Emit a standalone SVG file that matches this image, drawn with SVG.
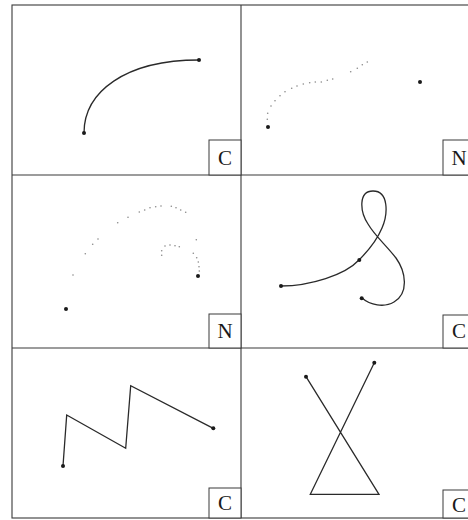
<svg xmlns="http://www.w3.org/2000/svg" width="468" height="520" viewBox="0 0 468 520">
<style>
.grid{fill:none;stroke:#3a3a3a;stroke-width:1.1}
.curve{fill:none;stroke:#2a2a2a;stroke-width:1.3;stroke-linejoin:miter}
.dot{fill:#1a1a1a}
.pt{fill:#888}
.lbl{fill:#fff;stroke:#3a3a3a;stroke-width:1}
.tx{font-family:"Liberation Serif","DejaVu Serif",serif;font-size:21px;fill:#1a1a1a;text-anchor:middle}
</style>
<rect width="468" height="520" fill="#fff"/>
<g id="grid">
<rect class="grid" x="12" y="5" width="463" height="513"/>
<line class="grid" x1="241" y1="5" x2="241" y2="518"/>
<line class="grid" x1="12" y1="175" x2="475" y2="175"/>
<line class="grid" x1="12" y1="348" x2="475" y2="348"/>
</g>
<g id="cell1">
<path class="curve" d="M84,133 C84,92 125,60 199,60"/>
<circle class="dot" cx="84" cy="133" r="2"/>
<circle class="dot" cx="199" cy="60" r="2"/>
<rect class="lbl" x="209" y="140" width="32" height="35"/>
<text class="tx" x="225" y="165">C</text>
</g>
<g id="cell2">
<g class="pt">
<circle cx="267.3" cy="119.3" r="0.8"/><circle cx="267.7" cy="113.3" r="0.8"/><circle cx="271" cy="106" r="0.8"/><circle cx="275" cy="100.7" r="0.8"/><circle cx="280" cy="95.7" r="0.8"/><circle cx="285" cy="91.7" r="0.8"/><circle cx="291.7" cy="88.3" r="0.8"/><circle cx="297" cy="86" r="0.8"/><circle cx="303.3" cy="84" r="0.8"/><circle cx="309.7" cy="82.7" r="0.8"/><circle cx="315.3" cy="82" r="0.8"/><circle cx="321.3" cy="82" r="0.8"/><circle cx="327.3" cy="80.3" r="0.8"/><circle cx="332.7" cy="79" r="0.8"/><circle cx="350.7" cy="71.7" r="0.8"/><circle cx="357.3" cy="68.3" r="0.8"/><circle cx="362.3" cy="64.7" r="0.8"/><circle cx="367.3" cy="62" r="0.8"/>
</g>
<circle class="dot" cx="268" cy="127" r="2"/>
<circle class="dot" cx="420" cy="82" r="2"/>
<rect class="lbl" x="443" y="140" width="32" height="35"/>
<text class="tx" x="459" y="165">N</text>
</g>
<g id="cell3">
<g class="pt">
<circle cx="73" cy="275" r="0.8"/><circle cx="85.3" cy="253.7" r="0.8"/><circle cx="92.7" cy="244.3" r="0.8"/><circle cx="98" cy="239" r="0.8"/><circle cx="117.7" cy="222.7" r="0.8"/><circle cx="128" cy="217.3" r="0.8"/><circle cx="139.3" cy="212" r="0.8"/><circle cx="144.7" cy="210" r="0.8"/><circle cx="150" cy="207.7" r="0.8"/><circle cx="155.7" cy="206.7" r="0.8"/><circle cx="161" cy="206" r="0.8"/><circle cx="171.3" cy="206.3" r="0.8"/><circle cx="176" cy="207.7" r="0.8"/><circle cx="180.7" cy="210" r="0.8"/><circle cx="185.7" cy="212.3" r="0.8"/><circle cx="196.3" cy="239.7" r="0.8"/><circle cx="193.3" cy="253.3" r="0.8"/><circle cx="196.7" cy="257.7" r="0.8"/><circle cx="198.3" cy="262" r="0.8"/><circle cx="199" cy="266.7" r="0.8"/><circle cx="199.3" cy="271" r="0.8"/>
<circle cx="161.7" cy="255.3" r="0.8"/><circle cx="161.7" cy="250.7" r="0.8"/><circle cx="165" cy="246" r="0.8"/><circle cx="170" cy="245" r="0.8"/><circle cx="175" cy="245.7" r="0.8"/><circle cx="179.3" cy="246.7" r="0.8"/>
</g>
<circle class="dot" cx="66" cy="309" r="2"/>
<circle class="dot" cx="198" cy="276" r="2"/>
<rect class="lbl" x="209" y="314" width="32" height="34"/>
<text class="tx" x="225" y="338">N</text>
</g>
<g id="cell4">
<path class="curve" d="M281,286 C310,286 345,275 359,260 C368,251 377,240 382,228 C388,214 389,191 373,191 C358,191 360,212 368,224 C375,236 386,245 396,258 C406,272 409,293 394,302 C384,308 370,305 362,298"/>
<circle class="dot" cx="281" cy="286" r="2"/>
<circle class="dot" cx="359.3" cy="260" r="2"/>
<circle class="dot" cx="361.7" cy="298.3" r="2"/>
<rect class="lbl" x="443" y="315" width="32" height="33"/>
<text class="tx" x="459" y="338">C</text>
</g>
<g id="cell5">
<polyline class="curve" points="63,466 66.7,415 125.7,448.3 130.7,385.7 213.3,428.3"/>
<circle class="dot" cx="63" cy="466" r="2"/>
<circle class="dot" cx="213.3" cy="428.3" r="2"/>
<rect class="lbl" x="209" y="488" width="32" height="30"/>
<text class="tx" x="225" y="510">C</text>
</g>
<g id="cell6">
<polyline class="curve" points="306,376.7 379,494.3 310.3,494.3 374.3,362.7"/>
<circle class="dot" cx="306" cy="376.7" r="2"/>
<circle class="dot" cx="374.3" cy="362.7" r="2"/>
<rect class="lbl" x="443" y="490" width="32" height="28"/>
<text class="tx" x="459" y="512">C</text>
</g>
</svg>
